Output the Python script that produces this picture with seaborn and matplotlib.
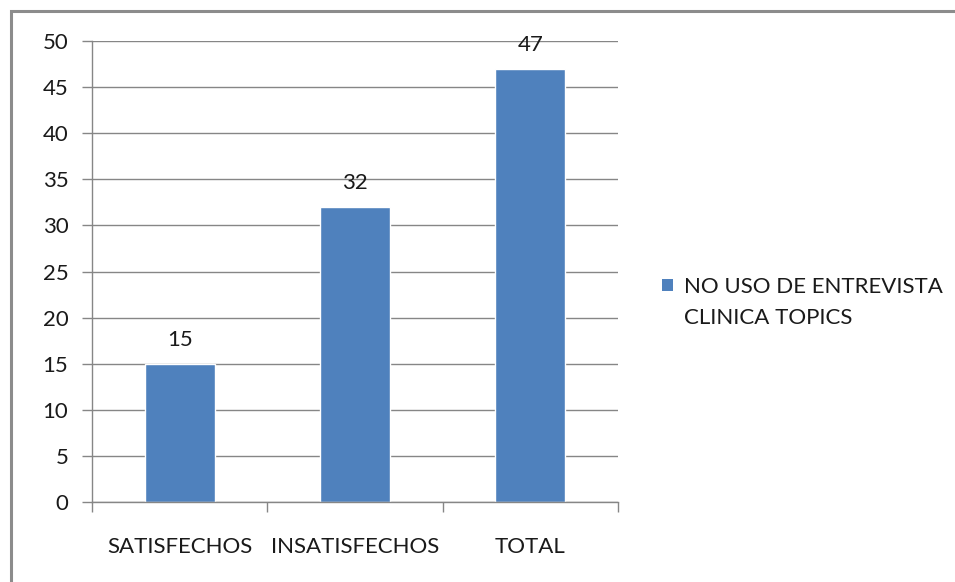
import matplotlib
matplotlib.use("Agg")
import matplotlib.pyplot as plt
import seaborn as sns
import pandas as pd
from matplotlib.patches import Rectangle, Patch

categories = ["SATISFECHOS", "INSATISFECHOS", "TOTAL"]
values = [15, 32, 47]
series_name = "NO USO DE ENTREVISTA\nCLINICA TOPICS"
yticks = [0, 5, 10, 15, 20, 25, 30, 35, 40, 45, 50]

sns.set_theme(style="white")
plt.rcParams['font.family'] = ['Lato', 'DejaVu Sans']

df = pd.DataFrame({"cat": categories, "val": values, "serie": [series_name] * 3})

fig = plt.figure(figsize=(9.55, 5.82), dpi=100)
ax = fig.add_axes([92/955, 1 - 502/582, (618-92)/955, (502-41)/582])

bar_color = "#4F81BD"
sns.barplot(data=df, x="cat", y="val", hue="serie", palette=[bar_color],
            width=0.4, ax=ax, saturation=1, legend=False)

FS = 16
txt_c = "#1a1a1a"
ax.set_ylim(0, 50)
ax.set_xlim(-0.5, 2.5)
ax.set_yticks(yticks)
ax.set_yticklabels([str(t) for t in yticks])
ax.set_xlabel("")
ax.set_ylabel("")
grid_c = "#868686"
ax.yaxis.grid(True, color=grid_c, linewidth=1)
ax.set_axisbelow(True)
for s in ["top", "right"]:
    ax.spines[s].set_visible(False)
for s in ["left", "bottom"]:
    ax.spines[s].set_color(grid_c)
    ax.spines[s].set_linewidth(1)

ax.tick_params(axis="y", which="both", left=True, length=7, width=1, color=grid_c,
               labelsize=FS, labelcolor=txt_c, pad=10)
ax.set_xticks([0, 1, 2])
ax.set_xticklabels(categories)
ax.set_xticks([-0.5, 0.5, 1.5, 2.5], minor=True)
ax.tick_params(axis="x", which="major", bottom=False, labelsize=FS, labelcolor=txt_c, pad=19)
ax.tick_params(axis="x", which="minor", bottom=True, length=7, width=1, color=grid_c)

for cont in ax.containers:
    ax.bar_label(cont, fmt="%d", padding=10, fontsize=FS, color=txt_c)

# legend: series name wrapped over two lines, marker on the first line
name_lines = series_name.split("\n")
handles = [Patch(facecolor=bar_color, edgecolor="none")] + \
          [Patch(facecolor="none", edgecolor="none") for _ in name_lines[1:]]
leg = ax.legend(handles, name_lines, loc="upper left", bbox_to_anchor=(1.0837, 0.488),
                frameon=False, fontsize=FS, handlelength=0.5, handleheight=0.5,
                handletextpad=0.5, labelspacing=0.48, borderpad=0, borderaxespad=0,
                labelcolor=txt_c)

fig.patches.append(Rectangle((11/955, -0.1), 1.2, 1 - 11/582 + 0.1,
                             transform=fig.transFigure, fill=False,
                             edgecolor="#8c8c8c", linewidth=2.2, clip_on=False))

fig.savefig("out.png", dpi=100, facecolor="white")
